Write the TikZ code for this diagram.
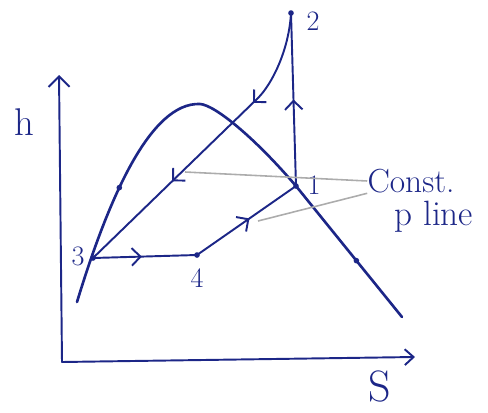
\documentclass[tikz,border=0pt]{standalone}
\usetikzlibrary{arrows.meta, decorations.markings}
\definecolor{ink}{RGB}{28,38,135}
\begin{document}
\begin{tikzpicture}[
  x=0.02cm, y=-0.02cm,
  inkline/.style={draw=ink, line width=1.1pt, line cap=round, line join=round},
  barb/.tip={Straight Barb[length=5pt, width=10pt]},
  flow/.style={inkline, postaction={decorate, decoration={markings, mark=at position #1 with {\arrow[ink, line width=1.1pt]{barb}}}}},
  lbl/.style={text=ink, inner sep=0pt},
  lead/.style={draw=gray!65, line width=0.9pt}
  ]
  \useasboundingbox (0,0) rectangle (488,413);
  % state points
  \coordinate (p1) at (296,186);
  \coordinate (p2) at (291,13);
  \coordinate (p3) at (93,258);
  \coordinate (p4) at (197,255);
  \coordinate (bend) at (258,98);
  % axes
  \coordinate (O) at (62,362);
  \coordinate (htop) at (59,75);
  \coordinate (send) at (415,357);
  \draw[inkline, -{Straight Barb[length=6pt, width=12pt]}] (O) -- (htop);
  \draw[inkline, -{Straight Barb[length=5pt, width=9pt]}] (O) -- (send);
  \node[lbl, font=\fontsize{22}{24}\selectfont] (hlab) at (24,122) {h};
  \node[lbl, font=\fontsize{25}{27}\selectfont] (slab) at (380,386) {S};
  % saturation dome
  \draw[inkline, line width=1.5pt] (77,302)
    .. controls (108,200) and (150,102) .. coordinate[pos=0.4] (d1) (200,104)
    .. controls (215,105) and (255,138) .. (p1)
    -- coordinate[pos=0.57] (d2) (402,317);
  % cycle
  \draw[flow=0.47] (p3) -- (p4);
  \draw[flow=0.53] (p4) -- (p1);
  \draw[flow=0.5] (p1) -- (p2);
  \draw[inkline, postaction={decorate, decoration={markings,
      mark=at position 0.31 with {\arrow[ink, line width=1.1pt]{barb}},
      mark=at position 0.66 with {\arrow[ink, line width=1.1pt]{barb}}}}]
    (p2) .. controls (289,50) and (272,84) .. (bend) -- (p3);
  \foreach \p in {p1,p2,p3,p4,d1,d2}
    \fill[ink] (\p) circle (1.6pt);
  % point labels
  \node[lbl, font=\fontsize{16}{18}\selectfont] (l1) at (314,185) {1};
  \node[lbl, font=\fontsize{16}{18}\selectfont] (l2) at (313,21) {2};
  \node[lbl, font=\fontsize{16}{18}\selectfont] (l3) at (78,256) {3};
  \node[lbl, font=\fontsize{16}{18}\selectfont] (l4) at (197,278) {4};
  % const p lines
  \node[lbl, font=\fontsize{19}{21}\selectfont] (cst) at (411,181) {Const.};
  \node[lbl, font=\fontsize{20}{22}\selectfont] (pln) at (434,217) {p line};
  \coordinate (lead1) at (185,172);
  \coordinate (lead2) at (258,221);
  \draw[lead] (cst.west) -- (lead1);
  \draw[lead] (cst.south west) -- (lead2);
\end{tikzpicture}
\end{document}
